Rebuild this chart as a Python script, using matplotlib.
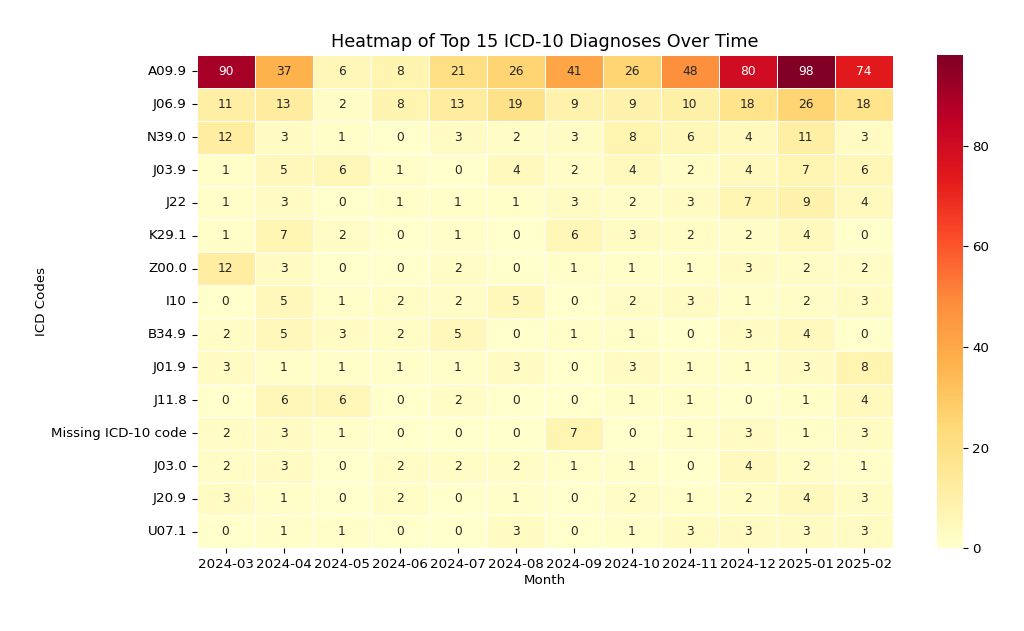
import numpy as np
import pandas as pd
import matplotlib
matplotlib.use("Agg")
import matplotlib.pyplot as plt
import seaborn as sns

months = ["2024-03", "2024-04", "2024-05", "2024-06", "2024-07", "2024-08",
          "2024-09", "2024-10", "2024-11", "2024-12", "2025-01", "2025-02"]
codes = ["A09.9", "J06.9", "N39.0", "J03.9", "J22", "K29.1", "Z00.0", "I10",
         "B34.9", "J01.9", "J11.8", "Missing ICD-10 code", "J03.0", "J20.9", "U07.1"]

a09_9 = [90, 37, 6, 8, 21, 26, 41, 26, 48, 80, 98, 74]
j06_9 = [11, 13, 2, 8, 13, 19, 9, 9, 10, 18, 26, 18]
n39_0 = [12, 3, 1, 0, 3, 2, 3, 8, 6, 4, 11, 3]
j03_9 = [1, 5, 6, 1, 0, 4, 2, 4, 2, 4, 7, 6]
j22 = [1, 3, 0, 1, 1, 1, 3, 2, 3, 7, 9, 4]
k29_1 = [1, 7, 2, 0, 1, 0, 6, 3, 2, 2, 4, 0]
z00_0 = [12, 3, 0, 0, 2, 0, 1, 1, 1, 3, 2, 2]
i10 = [0, 5, 1, 2, 2, 5, 0, 2, 3, 1, 2, 3]
b34_9 = [2, 5, 3, 2, 5, 0, 1, 1, 0, 3, 4, 0]
j01_9 = [3, 1, 1, 1, 1, 3, 0, 3, 1, 1, 3, 8]
j11_8 = [0, 6, 6, 0, 2, 0, 0, 1, 1, 0, 1, 4]
missing = [2, 3, 1, 0, 0, 0, 7, 0, 1, 3, 1, 3]
j03_0 = [2, 3, 0, 2, 2, 2, 1, 1, 0, 4, 2, 1]
j20_9 = [3, 1, 0, 2, 0, 1, 0, 2, 1, 2, 4, 3]
u07_1 = [0, 1, 1, 0, 0, 3, 0, 1, 3, 3, 3, 3]

rows = [a09_9, j06_9, n39_0, j03_9, j22, k29_1, z00_0, i10, b34_9,
        j01_9, j11_8, missing, j03_0, j20_9, u07_1]
df = pd.DataFrame(rows, index=codes, columns=months)

fig = plt.figure(figsize=(10.24, 6.31), dpi=100)
ax = fig.add_axes([0.192, 0.131, 0.680, 0.782])
cax = fig.add_axes([0.915, 0.131, 0.025, 0.782])

sns.heatmap(df, ax=ax, cbar_ax=cax, cmap="YlOrRd", annot=True, fmt="d",
            linewidths=0.5, linecolor="white", annot_kws={"size": 8.8})

ax.set_title("Heatmap of Top 15 ICD-10 Diagnoses Over Time", fontsize=12.7)
ax.set_xlabel("Month", fontsize=9.6, labelpad=2)
ax.set_ylabel("ICD Codes", fontsize=9.6, labelpad=2)
ax.tick_params(axis="x", labelrotation=0, labelsize=9.6)
ax.tick_params(axis="y", labelrotation=0, labelsize=9.6)
cax.tick_params(labelsize=9.6)

fig.savefig("out.png", dpi=100)
